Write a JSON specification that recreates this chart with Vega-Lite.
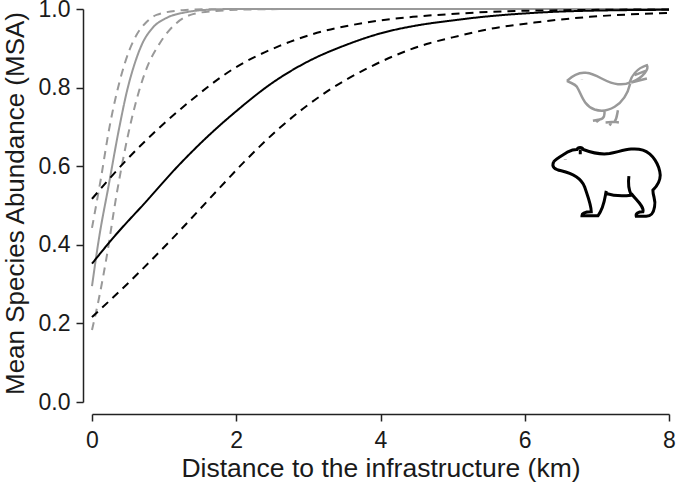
{"$schema":"https://vega.github.io/schema/vega-lite/v6.json","width":577,"height":393,"autosize":"none","padding":{"left":92,"top":9,"right":8,"bottom":81},"background":"white","config":{"view":{"stroke":null},"font":"Liberation Sans"},"datasets":{"curves":[
{"t":"bird","k":"mean","x":0,"y":0.295},{"t":"bird","k":"mean","x":0.1,"y":0.42},{"t":"bird","k":"mean","x":0.23,"y":0.55},{"t":"bird","k":"mean","x":0.38,"y":0.70},{"t":"bird","k":"mean","x":0.49,"y":0.795},{"t":"bird","k":"mean","x":0.59,"y":0.86},{"t":"bird","k":"mean","x":0.7,"y":0.913},{"t":"bird","k":"mean","x":0.84,"y":0.952},{"t":"bird","k":"mean","x":1.03,"y":0.977},{"t":"bird","k":"mean","x":1.31,"y":0.992},{"t":"bird","k":"mean","x":1.6,"y":0.998},{"t":"bird","k":"mean","x":2,"y":1},{"t":"bird","k":"mean","x":8,"y":1},
{"t":"bird","k":"high","x":0,"y":0.443},{"t":"bird","k":"high","x":0.12,"y":0.565},{"t":"bird","k":"high","x":0.24,"y":0.697},{"t":"bird","k":"high","x":0.395,"y":0.824},{"t":"bird","k":"high","x":0.52,"y":0.896},{"t":"bird","k":"high","x":0.617,"y":0.934},{"t":"bird","k":"high","x":0.756,"y":0.967},{"t":"bird","k":"high","x":0.895,"y":0.985},{"t":"bird","k":"high","x":1.26,"y":0.997},{"t":"bird","k":"high","x":1.6,"y":0.9995},{"t":"bird","k":"high","x":2.5,"y":1},
{"t":"bird","k":"low","x":0,"y":0.183},{"t":"bird","k":"low","x":0.1,"y":0.267},{"t":"bird","k":"low","x":0.2,"y":0.366},{"t":"bird","k":"low","x":0.34,"y":0.527},{"t":"bird","k":"low","x":0.55,"y":0.72},{"t":"bird","k":"low","x":0.65,"y":0.79},{"t":"bird","k":"low","x":0.76,"y":0.85},{"t":"bird","k":"low","x":0.94,"y":0.913},{"t":"bird","k":"low","x":1.17,"y":0.964},{"t":"bird","k":"low","x":1.4,"y":0.987},{"t":"bird","k":"low","x":1.72,"y":0.995},{"t":"bird","k":"low","x":2.2,"y":0.999},{"t":"bird","k":"low","x":3,"y":1},
{"t":"bear","k":"mean","x":0,"y":0.352},{"t":"bear","k":"mean","x":0.29,"y":0.417},{"t":"bear","k":"mean","x":0.75,"y":0.51},{"t":"bear","k":"mean","x":1.19,"y":0.6},{"t":"bear","k":"mean","x":1.6,"y":0.675},{"t":"bear","k":"mean","x":2,"y":0.74},{"t":"bear","k":"mean","x":2.5,"y":0.812},{"t":"bear","k":"mean","x":3,"y":0.867},{"t":"bear","k":"mean","x":3.5,"y":0.907},{"t":"bear","k":"mean","x":4,"y":0.938},{"t":"bear","k":"mean","x":4.5,"y":0.958},{"t":"bear","k":"mean","x":4.96,"y":0.97},{"t":"bear","k":"mean","x":5.42,"y":0.98},{"t":"bear","k":"mean","x":6.11,"y":0.99},{"t":"bear","k":"mean","x":6.76,"y":0.995},{"t":"bear","k":"mean","x":8,"y":0.998},
{"t":"bear","k":"high","x":0,"y":0.517},{"t":"bear","k":"high","x":0.49,"y":0.618},{"t":"bear","k":"high","x":1.33,"y":0.761},{"t":"bear","k":"high","x":1.98,"y":0.85},{"t":"bear","k":"high","x":2.6,"y":0.906},{"t":"bear","k":"high","x":3.06,"y":0.936},{"t":"bear","k":"high","x":3.75,"y":0.964},{"t":"bear","k":"high","x":4.45,"y":0.98},{"t":"bear","k":"high","x":4.96,"y":0.987},{"t":"bear","k":"high","x":5.89,"y":0.995},{"t":"bear","k":"high","x":8,"y":0.999},
{"t":"bear","k":"low","x":0,"y":0.216},{"t":"bear","k":"low","x":0.66,"y":0.331},{"t":"bear","k":"low","x":1.12,"y":0.417},{"t":"bear","k":"low","x":1.74,"y":0.539},{"t":"bear","k":"low","x":2.11,"y":0.611},{"t":"bear","k":"low","x":2.6,"y":0.697},{"t":"bear","k":"low","x":3.25,"y":0.789},{"t":"bear","k":"low","x":3.85,"y":0.852},{"t":"bear","k":"low","x":4.68,"y":0.913},{"t":"bear","k":"low","x":4.96,"y":0.926},{"t":"bear","k":"low","x":5.51,"y":0.949},{"t":"bear","k":"low","x":6.2,"y":0.967},{"t":"bear","k":"low","x":6.9,"y":0.98},{"t":"bear","k":"low","x":8,"y":0.99}
],"bird":[{"x":7.13,"y":0.785}],"bear":[{"x":7.13,"y":0.556}]},
"encoding":{"x":{"field":"x","type":"quantitative","scale":{"domain":[0,8],"nice":false,"zero":false},"axis":{"values":[0,2,4,6,8],"grid":false,"offset":12,"title":"Distance to the infrastructure (km)","titleFontSize":26.5,"titleFontWeight":"normal","titleColor":"#1a1a1a","titlePadding":3,"labelFontSize":23,"labelColor":"#1a1a1a","labelPadding":8,"tickSize":7,"tickColor":"#222222","tickWidth":1.5,"domainColor":"#222222","domainWidth":1.5,"labelFlush":false}},"y":{"field":"y","type":"quantitative","scale":{"domain":[0,1],"nice":false,"zero":false},"axis":{"values":[0,0.2,0.4,0.6,0.8,1],"format":".1f","grid":false,"offset":9,"title":"Mean Species Abundance (MSA)","titleFontSize":26,"titleY":194,"titleFontWeight":"normal","titleColor":"#1a1a1a","titlePadding":10,"labelFontSize":23,"labelColor":"#1a1a1a","labelPadding":6,"tickSize":7,"tickColor":"#222222","tickWidth":1.5,"domainColor":"#222222","domainWidth":1.5,"labelFlush":false}}},
"layer":[
{"data":{"name":"curves"},"mark":{"type":"line","interpolate":"monotone","strokeWidth":2},"encoding":{"color":{"field":"t","type":"nominal","scale":{"domain":["bird","bear"],"range":["#999999","#000000"]},"legend":null},"strokeDash":{"field":"k","type":"nominal","scale":{"domain":["mean","high","low"],"range":[[1,0],[8,6],[8,6]]},"legend":null},"detail":{"field":"k"},"order":{"field":"x","type":"quantitative"}}},
{"data":{"name":"bird"},"mark":{"type":"point","filled":false,"stroke":"#999999","strokeWidth":2.5,"opacity":1,"size":0.444,"shape":"M-118,-38 C-100,-55 -80,-65 -60,-62 C-25,-58 0,-30 35,-28 C50,-27 62,-28 70,-33 C75,-50 90,-75 122,-85 C128,-75 115,-50 75,-33 L122,-45 M85,-55 L118,-68 M-118,-38 C-105,-30 -95,-30 -88,-20 C-75,0 -70,35 -35,48 C0,60 55,40 72,-30 M-5,52 C-5,65 -5,75 -20,78 L-40,82 M-20,78 L-30,86 M35,50 C32,65 32,75 25,85 L-2,87 M25,85 L38,87 M15,88 L10,96 M-73,-43 L-73,-42"}},
{"data":{"name":"bear"},"mark":{"type":"point","filled":false,"stroke":"#000000","strokeWidth":3,"opacity":1,"size":0.444,"shape":"M-158,-65 C-150,-75 -130,-85 -115,-95 C-105,-100 -95,-102 -88,-102 C-85,-110 -72,-110 -69,-102 C-50,-95 -20,-85 10,-90 C50,-98 80,-110 110,-100 C140,-90 160,-55 162,-25 C162,-5 150,10 140,20 C140,40 150,50 145,70 C142,90 135,98 120,98 L90,98 C88,90 95,85 110,85 C115,70 90,50 75,30 M68,-22 C65,0 68,20 75,35 C50,38 25,38 0,30 M0,22 C-5,45 -5,70 -25,97 L-73,97 C-73,88 -60,85 -45,85 C-45,65 -55,40 -65,10 C-75,-15 -100,-30 -135,-38 C-155,-42 -165,-50 -158,-65 M-78,-102 L-78,-88 M-123,-73 L-123,-72"}}
]}
